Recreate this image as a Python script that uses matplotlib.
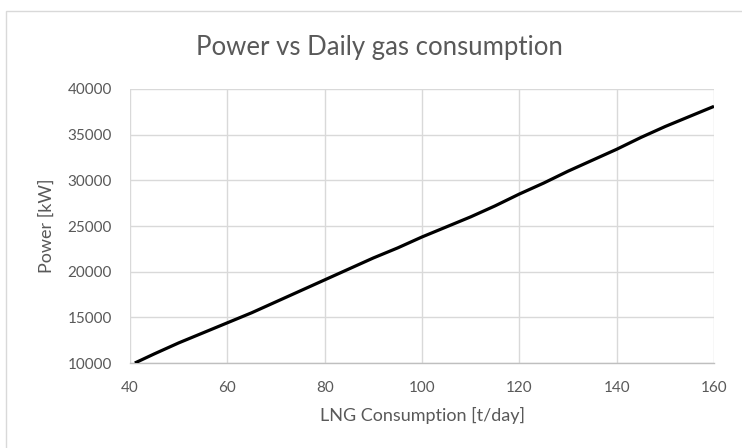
import matplotlib.pyplot as plt
from matplotlib.patches import Rectangle

# LNG consumption [t/day] vs power [kW]
lng_t_day = [41, 45, 50, 55, 60, 65, 70, 75, 80, 85, 90, 95, 100,
             105, 110, 115, 120, 125, 130, 135, 140, 145, 150, 155, 160]
power_kw = [10000, 11000, 12200, 13300, 14400, 15500, 16700, 17900, 19100,
            20300, 21500, 22600, 23800, 24900, 26000, 27200, 28500, 29700,
            31000, 32200, 33400, 34700, 35900, 37000, 38100]

x_ticks = [40, 60, 80, 100, 120, 140, 160]
y_ticks = [10000, 15000, 20000, 25000, 30000, 35000, 40000]

TXT = '#595959'
GRID = '#D9D9D9'

plt.rcParams['font.family'] = ['Lato', 'DejaVu Sans']

fig = plt.figure(figsize=(7.42, 4.48), dpi=100)
ax = fig.add_axes([130 / 742, 1 - 363 / 448, 584 / 742, 274 / 448])

# chart-area border like the spreadsheet export
fig.patches.append(Rectangle((6 / 742, -0.05), 1.2, 1 - 11 / 448 + 0.05,
                             transform=fig.transFigure, fill=False,
                             edgecolor='#D9D9D9', linewidth=1.0))

ax.plot(lng_t_day, power_kw, color='black', linewidth=2.3,
        solid_capstyle='butt', zorder=3)

ax.set_xlim(40, 160)
ax.set_ylim(10000, 40000)
ax.set_xticks(x_ticks)
ax.set_yticks(y_ticks)
ax.grid(True, color=GRID, linewidth=1.0)
ax.set_axisbelow(True)
for s in ['top', 'right', 'left']:
    ax.spines[s].set_visible(False)
ax.spines['bottom'].set_color('#BFBFBF')
ax.spines['bottom'].set_linewidth(1.0)
ax.tick_params(length=0, labelsize=11, labelcolor=TXT)
ax.tick_params(axis='y', pad=13)
ax.tick_params(axis='x', pad=13)

fig.text(422 / 742, 1 - 415 / 448, 'LNG Consumption [t/day]',
         fontsize=13, color=TXT, ha='center', va='center')
fig.text(47 / 742, 1 - 226 / 448, 'Power [kW]', rotation=90,
         fontsize=13, color=TXT, ha='center', va='center')
fig.text(379 / 742, 1 - 47 / 448, 'Power vs Daily gas consumption',
         fontsize=18.5, color=TXT, ha='center', va='center')

fig.savefig('out.png', dpi=100)
